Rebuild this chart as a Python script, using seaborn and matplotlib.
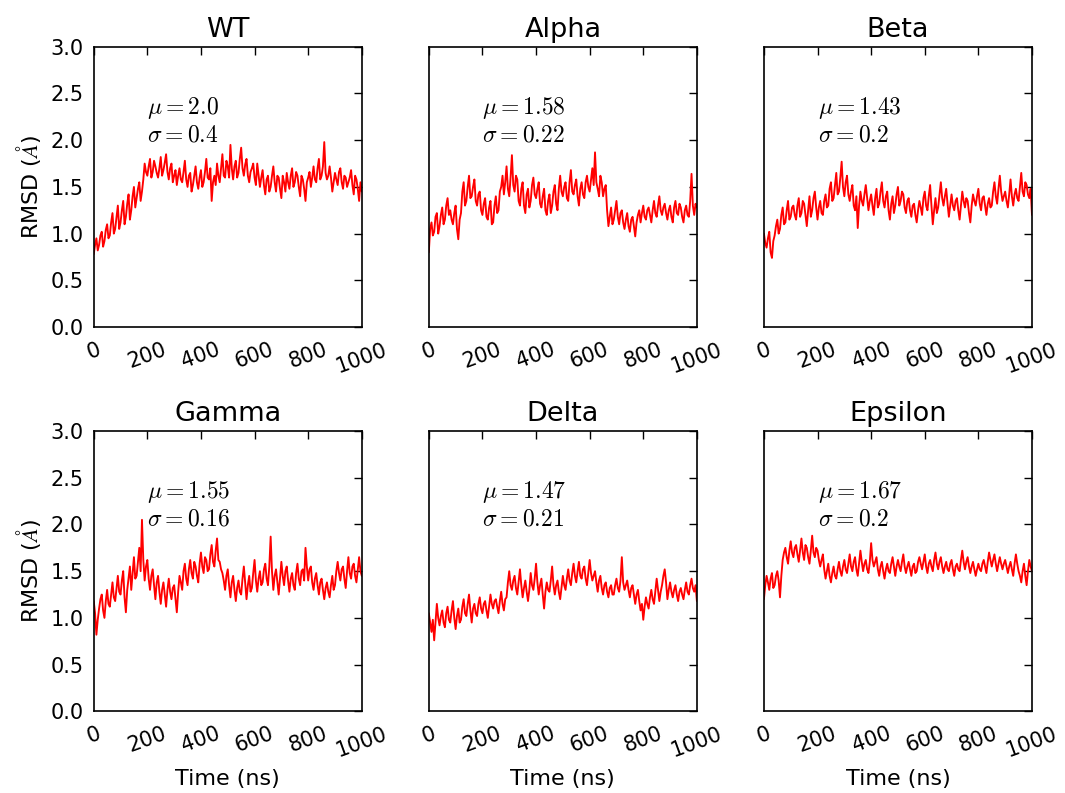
import numpy as np
import pandas as pd
import seaborn as sns
import matplotlib
matplotlib.use("Agg")
import matplotlib.pyplot as plt
from matplotlib.ticker import FormatStrFormatter

# Simulation time axis (ns), one frame every 5 ns
time_ns = list(range(0, 1001, 5))

panel_names = ["WT", "Alpha", "Beta", "Gamma", "Delta", "Epsilon"]
panel_mu = ["2.0", "1.58", "1.43", "1.55", "1.47", "1.67"]
panel_sigma = ["0.4", "0.22", "0.2", "0.16", "0.21", "0.2"]

rmsd_wt = [
    0.78, 0.88, 0.95, 0.82, 0.88, 0.98, 1.02, 0.86, 0.92, 1.04,
    1.10, 0.95, 0.98, 1.12, 1.22, 1.00, 1.05, 1.18, 1.30, 1.05,
    1.12, 1.25, 1.35, 1.10, 1.18, 1.32, 1.42, 1.15, 1.25, 1.40,
    1.50, 1.28, 1.38, 1.48, 1.55, 1.35, 1.45, 1.58, 1.75, 1.66,
    1.62, 1.72, 1.80, 1.60, 1.66, 1.78, 1.72, 1.65, 1.60, 1.70,
    1.82, 1.62, 1.68, 1.76, 1.85, 1.66, 1.58, 1.70, 1.75, 1.55,
    1.62, 1.68, 1.52, 1.62, 1.70, 1.58, 1.55, 1.66, 1.78, 1.58,
    1.50, 1.62, 1.65, 1.45, 1.52, 1.62, 1.72, 1.55, 1.48, 1.60,
    1.68, 1.50, 1.55, 1.66, 1.80, 1.60, 1.58, 1.70, 1.35, 1.55,
    1.62, 1.52, 1.75, 1.62, 1.55, 1.70, 1.85, 1.62, 1.60, 1.78,
    1.72, 1.60, 1.95, 1.70, 1.58, 1.72, 1.78, 1.60, 1.65, 1.80,
    1.92, 1.70, 1.62, 1.74, 1.80, 1.62, 1.55, 1.66, 1.70, 1.75,
    1.60, 1.52, 1.75, 1.62, 1.50, 1.60, 1.68, 1.52, 1.42, 1.58,
    1.62, 1.45, 1.50, 1.62, 1.72, 1.55, 1.45, 1.62, 1.60, 1.48,
    1.38, 1.62, 1.55, 1.45, 1.65, 1.55, 1.48, 1.62, 1.70, 1.50,
    1.55, 1.66, 1.62, 1.50, 1.40, 1.62, 1.58, 1.48, 1.35, 1.55,
    1.60, 1.66, 1.50, 1.60, 1.72, 1.58, 1.55, 1.70, 1.80, 1.58,
    1.62, 1.72, 1.98, 1.65, 1.58, 1.62, 1.72, 1.60, 1.45, 1.55,
    1.65, 1.58, 1.52, 1.66, 1.70, 1.55, 1.48, 1.62, 1.60, 1.50,
    1.55, 1.60, 1.68, 1.52, 1.42, 1.62, 1.58, 1.48, 1.35, 1.55,
    1.45,
]

rmsd_alpha = [
    0.80, 1.05, 1.12, 0.98, 1.02, 1.18, 1.22, 1.00, 1.08, 1.20,
    1.28, 1.10, 1.15, 1.30, 1.38, 1.20, 1.25, 1.15, 1.10, 1.22,
    1.30, 1.05, 0.94, 1.15, 1.22, 1.45, 1.55, 1.30, 1.35, 1.50,
    1.62, 1.38, 1.40, 1.50, 1.58, 1.35, 1.30, 1.42, 1.45, 1.25,
    1.20, 1.32, 1.38, 1.18, 1.15, 1.28, 1.35, 1.10, 1.12, 1.30,
    1.40, 1.22, 1.25, 1.45, 1.50, 1.62, 1.42, 1.55, 1.72, 1.48,
    1.40, 1.60, 1.84, 1.52, 1.45, 1.62, 1.58, 1.35, 1.30, 1.48,
    1.55, 1.30, 1.22, 1.42, 1.48, 1.28, 1.35, 1.52, 1.60, 1.42,
    1.38, 1.48, 1.55, 1.32, 1.28, 1.40, 1.48, 1.25, 1.20, 1.35,
    1.42, 1.22, 1.30, 1.45, 1.52, 1.32, 1.25, 1.48, 1.62, 1.45,
    1.40, 1.50, 1.55, 1.38, 1.35, 1.55, 1.68, 1.45, 1.42, 1.52,
    1.58, 1.40, 1.30, 1.48, 1.55, 1.42, 1.38, 1.55, 1.62, 1.50,
    1.45, 1.58, 1.70, 1.52, 1.87, 1.55, 1.48, 1.40, 1.62, 1.55,
    1.40, 1.48, 1.52, 1.25, 1.08, 1.18, 1.28, 1.10, 1.15, 1.25,
    1.35, 1.18, 1.10, 1.22, 1.25, 1.12, 1.05, 1.15, 1.22, 1.08,
    1.02, 1.15, 1.18, 1.08, 0.97, 1.12, 1.20, 1.25, 1.12, 1.22,
    1.30, 1.18, 1.15, 1.25, 1.28, 1.20, 1.12, 1.25, 1.35, 1.22,
    1.18, 1.30, 1.40, 1.25, 1.20, 1.28, 1.32, 1.22, 1.15, 1.25,
    1.30, 1.18, 1.12, 1.28, 1.35, 1.22, 1.20, 1.32, 1.28, 1.18,
    1.12, 1.25, 1.30, 1.20, 1.18, 1.35, 1.64, 1.30, 1.20, 1.32,
    1.28,
]

rmsd_beta = [
    1.00, 0.90, 0.85, 0.95, 1.02, 0.80, 0.74, 0.92, 0.98, 1.08,
    1.15, 1.00, 1.05, 1.20, 1.28, 1.10, 1.12, 1.25, 1.35, 1.15,
    1.18, 1.28, 1.30, 1.20, 1.15, 1.30, 1.38, 1.18, 1.22, 1.35,
    1.32, 1.20, 1.08, 1.25, 1.40, 1.18, 1.25, 1.38, 1.45, 1.28,
    1.15, 1.28, 1.35, 1.22, 1.20, 1.35, 1.42, 1.28, 1.30, 1.48,
    1.55, 1.35, 1.38, 1.52, 1.65, 1.42, 1.45, 1.60, 1.77, 1.50,
    1.40, 1.55, 1.62, 1.42, 1.35, 1.45, 1.52, 1.30, 1.25, 1.40,
    1.06, 1.30, 1.45, 1.35, 1.30, 1.42, 1.52, 1.38, 1.25, 1.35,
    1.42, 1.30, 1.20, 1.38, 1.48, 1.28, 1.32, 1.45, 1.55, 1.35,
    1.28, 1.40, 1.45, 1.25, 1.15, 1.32, 1.40, 1.22, 1.30, 1.42,
    1.50, 1.30, 1.35, 1.45, 1.42, 1.28, 1.22, 1.35, 1.38, 1.25,
    1.18, 1.30, 1.32, 1.20, 1.12, 1.25, 1.35, 1.28, 1.20, 1.38,
    1.45, 1.30, 1.25, 1.40, 1.52, 1.30, 1.10, 1.25, 1.38, 1.22,
    1.28, 1.42, 1.55, 1.38, 1.30, 1.40, 1.48, 1.32, 1.18, 1.30,
    1.42, 1.30, 1.25, 1.35, 1.38, 1.25, 1.15, 1.30, 1.45, 1.35,
    1.28, 1.38, 1.35, 1.22, 1.12, 1.30, 1.42, 1.35, 1.30, 1.40,
    1.48, 1.32, 1.25, 1.38, 1.40, 1.30, 1.20, 1.32, 1.38, 1.28,
    1.30, 1.45, 1.55, 1.40, 1.32, 1.48, 1.62, 1.45, 1.35, 1.40,
    1.45, 1.35, 1.28, 1.42, 1.58, 1.40, 1.30, 1.42, 1.48, 1.38,
    1.35, 1.50, 1.65, 1.45, 1.40, 1.55, 1.52, 1.42, 1.38, 1.48,
    1.20,
]

rmsd_gamma = [
    1.18, 1.05, 0.82, 0.98, 1.10, 1.20, 1.25, 1.08, 1.00, 1.18,
    1.30, 1.15, 1.12, 1.25, 1.38, 1.22, 1.18, 1.32, 1.45, 1.28,
    1.25, 1.40, 1.50, 1.22, 1.06, 1.30, 1.42, 1.55, 1.30, 1.48,
    1.65, 1.42, 1.45, 1.60, 1.75, 1.50, 2.05, 1.62, 1.40, 1.55,
    1.62, 1.42, 1.30, 1.45, 1.52, 1.35, 1.20, 1.38, 1.45, 1.28,
    1.15, 1.30, 1.38, 1.25, 1.12, 1.30, 1.42, 1.28, 1.20, 1.32,
    1.35, 1.20, 1.06, 1.28, 1.45, 1.38, 1.30, 1.50, 1.58, 1.42,
    1.35, 1.52, 1.62, 1.48, 1.42, 1.60, 1.55, 1.45, 1.38, 1.58,
    1.70, 1.55, 1.48, 1.65, 1.62, 1.50, 1.52, 1.68, 1.78, 1.60,
    1.55, 1.72, 1.85, 1.62, 1.60, 1.52, 1.48, 1.40, 1.30, 1.45,
    1.52, 1.35, 1.22, 1.38, 1.45, 1.30, 1.18, 1.32, 1.40, 1.28,
    1.25, 1.42, 1.55, 1.38, 1.20, 1.35, 1.45, 1.28, 1.32, 1.48,
    1.62, 1.40, 1.28, 1.42, 1.50, 1.35, 1.38, 1.52, 1.58, 1.42,
    1.35, 1.55, 1.87, 1.50, 1.30, 1.45, 1.52, 1.38, 1.25, 1.42,
    1.60, 1.45, 1.35, 1.50, 1.55, 1.40, 1.28, 1.42, 1.48, 1.35,
    1.30, 1.48, 1.58, 1.42, 1.35, 1.50, 1.52, 1.40, 1.75, 1.55,
    1.40, 1.52, 1.55, 1.38, 1.30, 1.42, 1.48, 1.35, 1.25, 1.38,
    1.42, 1.30, 1.20, 1.32, 1.38, 1.28, 1.22, 1.35, 1.45, 1.30,
    1.35, 1.50, 1.60, 1.48, 1.40, 1.52, 1.55, 1.42, 1.32, 1.50,
    1.65, 1.48, 1.42, 1.55, 1.58, 1.45, 1.38, 1.52, 1.65, 1.50,
    1.45,
]

rmsd_delta = [
    1.05, 0.95, 0.85, 0.98, 0.76, 0.95, 1.15, 1.00, 0.92, 1.02,
    1.08, 0.95, 0.90, 1.05, 1.12, 0.98, 0.95, 1.08, 1.18, 1.00,
    0.88, 1.02, 1.10, 0.95, 0.98, 1.12, 1.20, 1.05, 1.02, 1.15,
    1.25, 1.08, 0.95, 1.10, 1.15, 1.05, 1.02, 1.15, 1.22, 1.10,
    1.05, 1.15, 1.18, 1.08, 1.00, 1.12, 1.25, 1.15, 1.10, 1.18,
    1.20, 1.12, 1.05, 1.18, 1.28, 1.15, 1.08, 1.20, 1.22, 1.38,
    1.50, 1.35, 1.30, 1.40, 1.45, 1.32, 1.25, 1.38, 1.52, 1.35,
    1.22, 1.32, 1.40, 1.28, 1.18, 1.30, 1.48, 1.35, 1.30, 1.42,
    1.58, 1.38, 1.25, 1.35, 1.42, 1.25, 1.10, 1.28, 1.38, 1.30,
    1.28, 1.40, 1.55, 1.35, 1.25, 1.35, 1.40, 1.28, 1.20, 1.32,
    1.45, 1.35, 1.30, 1.42, 1.52, 1.40, 1.35, 1.48, 1.58, 1.45,
    1.38, 1.50, 1.60, 1.45, 1.42, 1.52, 1.55, 1.42, 1.35, 1.48,
    1.62, 1.48, 1.40, 1.45, 1.50, 1.38, 1.28, 1.40, 1.45, 1.32,
    1.25, 1.35, 1.38, 1.28, 1.22, 1.32, 1.35, 1.25, 1.25, 1.35,
    1.42, 1.32, 1.28, 1.40, 1.65, 1.38, 1.30, 1.35, 1.40, 1.30,
    1.22, 1.32, 1.35, 1.25, 1.15, 1.25, 1.30, 1.18, 1.08, 1.15,
    0.98, 1.12, 1.22, 1.15, 1.10, 1.22, 1.30, 1.20, 1.15, 1.28,
    1.42, 1.30, 1.18, 1.28, 1.35, 1.45, 1.52, 1.38, 1.20, 1.30,
    1.38, 1.28, 1.22, 1.30, 1.35, 1.25, 1.18, 1.28, 1.32, 1.25,
    1.20, 1.30, 1.38, 1.28, 1.25, 1.35, 1.42, 1.32, 1.28, 1.35,
    1.18,
]

rmsd_epsilon = [
    1.20, 1.35, 1.45, 1.38, 1.30, 1.42, 1.48, 1.32, 1.35, 1.45,
    1.50, 1.40, 1.22, 1.45, 1.62, 1.70, 1.75, 1.65, 1.58, 1.72,
    1.82, 1.70, 1.65, 1.75, 1.78, 1.68, 1.60, 1.72, 1.85, 1.70,
    1.62, 1.78, 1.75, 1.65, 1.58, 1.72, 1.88, 1.70, 1.65, 1.75,
    1.72, 1.62, 1.55, 1.62, 1.68, 1.52, 1.42, 1.50, 1.58, 1.45,
    1.38, 1.48, 1.55, 1.45, 1.42, 1.52, 1.60, 1.50, 1.45, 1.55,
    1.62, 1.52, 1.48, 1.58, 1.68, 1.55, 1.50, 1.60, 1.65, 1.52,
    1.45, 1.58, 1.72, 1.60, 1.50, 1.58, 1.62, 1.52, 1.48, 1.60,
    1.80, 1.62, 1.55, 1.60, 1.65, 1.52, 1.45, 1.55, 1.60, 1.50,
    1.42, 1.52, 1.58, 1.50, 1.48, 1.58, 1.65, 1.55, 1.45, 1.55,
    1.62, 1.55, 1.50, 1.60, 1.68, 1.55, 1.48, 1.55, 1.60, 1.52,
    1.45, 1.55, 1.58, 1.48, 1.50, 1.60, 1.65, 1.58, 1.52, 1.60,
    1.68, 1.55, 1.48, 1.58, 1.62, 1.55, 1.50, 1.62, 1.70, 1.58,
    1.52, 1.60, 1.65, 1.55, 1.48, 1.55, 1.60, 1.52, 1.50, 1.58,
    1.62, 1.52, 1.45, 1.55, 1.58, 1.52, 1.50, 1.62, 1.72, 1.60,
    1.52, 1.60, 1.65, 1.55, 1.48, 1.55, 1.60, 1.52, 1.45, 1.52,
    1.58, 1.52, 1.50, 1.58, 1.62, 1.55, 1.48, 1.60, 1.70, 1.62,
    1.55, 1.62, 1.68, 1.58, 1.50, 1.58, 1.65, 1.58, 1.52, 1.58,
    1.62, 1.55, 1.48, 1.55, 1.60, 1.52, 1.45, 1.58, 1.68, 1.58,
    1.50, 1.45, 1.38, 1.50, 1.58, 1.45, 1.35, 1.50, 1.62, 1.55,
    1.50,
]

series = [rmsd_wt, rmsd_alpha, rmsd_beta, rmsd_gamma, rmsd_delta, rmsd_epsilon]

sns.set_theme(style="white")
plt.rcParams["font.family"] = ["DejaVu Sans"]
plt.rcParams["mathtext.fontset"] = "cm"
plt.rcParams["xtick.direction"] = "in"
plt.rcParams["ytick.direction"] = "in"
plt.rcParams["text.color"] = "black"
plt.rcParams["axes.labelcolor"] = "black"
plt.rcParams["xtick.color"] = "black"
plt.rcParams["ytick.color"] = "black"

fig, axes = plt.subplots(2, 3, figsize=(10.65, 7.93), dpi=100, sharey=True)
fig.subplots_adjust(left=0.088, right=0.969, top=0.941, bottom=0.103,
                    wspace=0.25, hspace=0.371)

for i, ax in enumerate(axes.flat):
    df = pd.DataFrame({"time": time_ns, "rmsd": series[i]})
    sns.lineplot(data=df, x="time", y="rmsd", ax=ax, color="red", linewidth=1.35)
    ax.set_xlim(0, 1000)
    ax.set_ylim(0, 3.0)
    ax.set_xticks([0, 200, 400, 600, 800, 1000])
    ax.set_yticks(np.arange(0, 3.01, 0.5))
    ax.tick_params(axis="both", which="major", length=6, width=1, color="black",
                   top=True, right=True, labelsize=15, pad=7)
    ax.tick_params(axis="x", pad=9)
    for lbl in ax.get_xticklabels():
        lbl.set_rotation(20)
    for s in ax.spines.values():
        s.set_color("black")
        s.set_linewidth(1.2)
    ax.set_title(panel_names[i], fontsize=19.5, pad=7, color="black")
    ax.text(200, 2.35, r"$\mu = %s$" % panel_mu[i], fontsize=17, va="center")
    ax.text(200, 2.06, r"$\sigma = %s$" % panel_sigma[i], fontsize=17, va="center")
    if i % 3 == 0:
        ax.set_ylabel(r"RMSD ($\AA$)", fontsize=16, labelpad=6)
        ax.yaxis.set_major_formatter(FormatStrFormatter("%.1f"))
    else:
        ax.set_ylabel("")
    if i >= 3:
        ax.set_xlabel("Time (ns)", fontsize=16, labelpad=6)
    else:
        ax.set_xlabel("")

fig.savefig("out.png", dpi=100, facecolor="white")
